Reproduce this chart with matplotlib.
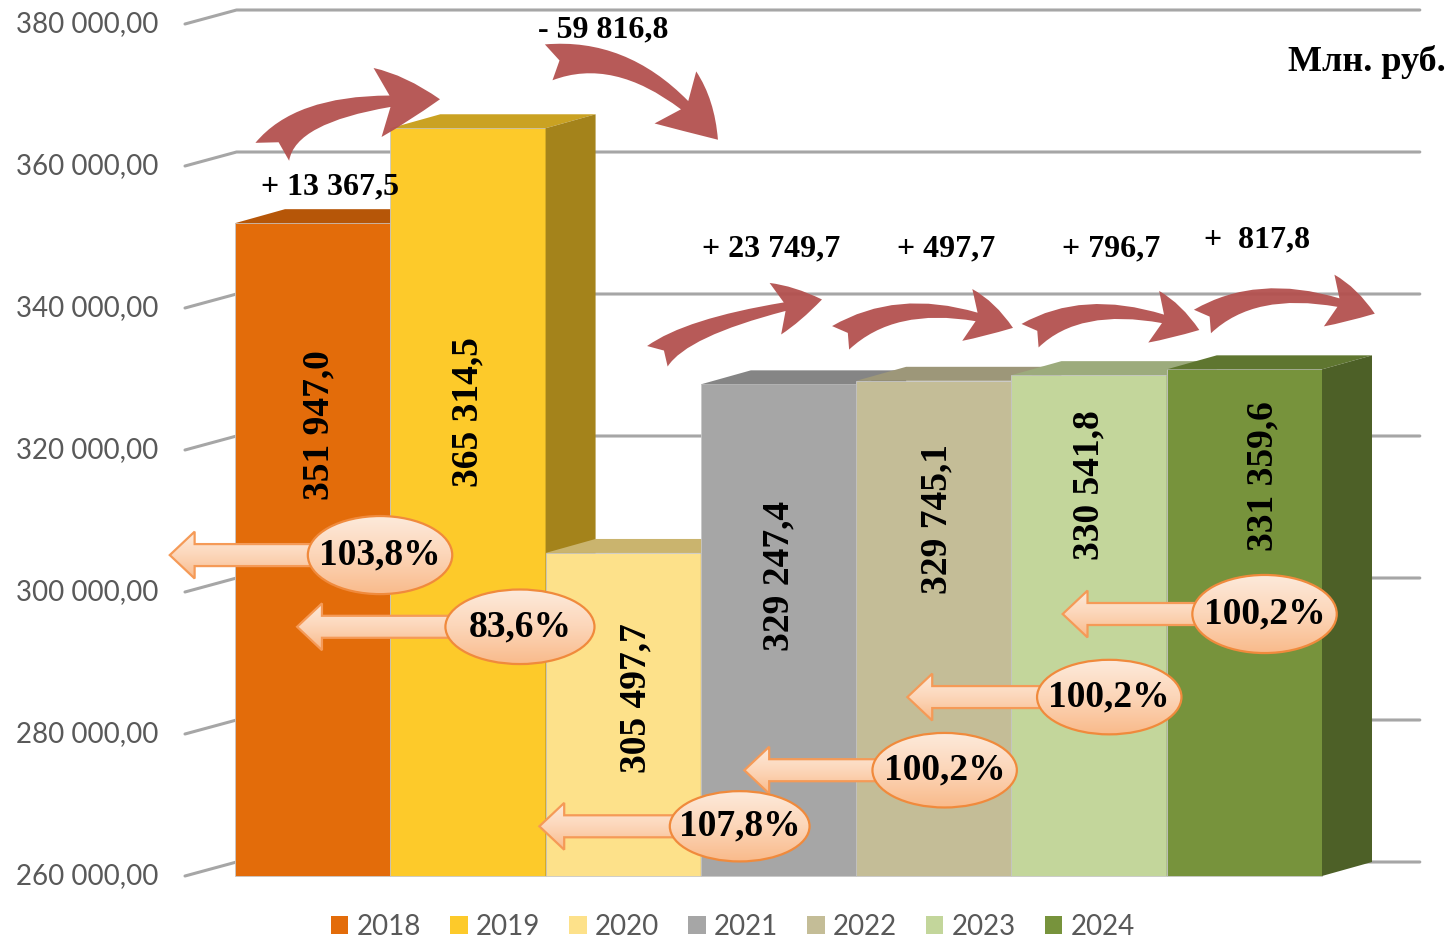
import numpy as np
import matplotlib
matplotlib.use('Agg')
import matplotlib.pyplot as plt
from matplotlib.patches import Polygon, Ellipse, FancyArrowPatch, Patch
from matplotlib.colors import LinearSegmentedColormap

# data
years = ['2018', '2019', '2020', '2021', '2022', '2023', '2024']
values = [351947.0, 365314.5, 305497.7, 329247.4, 329745.1, 330541.8, 331359.6]
value_labels = ['351 947,0', '365 314,5', '305 497,7', '329 247,4',
                '329 745,1', '330 541,8', '331 359,6']
change_labels = ['+ 13 367,5', '- 59 816,8', '+ 23 749,7', '+ 497,7',
                 '+ 796,7', '+  817,8']
pct_labels = ['103,8%', '83,6%', '107,8%', '100,2%', '100,2%', '100,2%']
yticks = [260000, 280000, 300000, 320000, 340000, 360000, 380000]
ytick_labels = ['260 000,00', '280 000,00', '300 000,00', '320 000,00',
                '340 000,00', '360 000,00', '380 000,00']
colors = ['#e36c0a', '#fdca2a', '#fde18a', '#a6a6a6', '#c4bd97', '#c3d69b', '#77933c']

# layout (bar units on x, value units on y)
YMIN, YMAX = 260000, 380000
DX, DY = 0.322, 1972          # 3d depth offset
label_frac = [0.69, 0.62, 0.55, 0.61, 0.72, 0.78, 0.79]
label_dx = [0.04, 0.0, 0.08, 0.0, 0.02, 0.0, 0.12]
change_pos = [(0.61, 357000), (2.37, 379200), (3.45, 348300),
              (4.58, 348300), (5.64, 348300), (6.58, 349600)]
# tail, tip, angleA, angleB, size
curve_arrows = [((0.24, 362000), (1.32, 369400), 62, 0, 50),
                ((2.02, 374600), (3.11, 363700), 12, -50, 48),
                ((2.72, 333200), (3.78, 341200), 45, 10, 38),
                ((3.90, 335800), (5.01, 337200), 36, -20, 38),
                ((5.12, 336100), (6.21, 336900), 36, -20, 38),
                ((6.23, 338100), (7.34, 339200), 36, -20, 38)]
ell_x = [0.934, 1.835, 3.25, 4.57, 5.63, 6.63]
ell_y = [305200, 295100, 267000, 274900, 285200, 296900]
ell_w = [0.93, 0.96, 0.90, 0.93, 0.93, 0.93]
ell_h = [11000, 10500, 9900, 10500, 10500, 11000]
tip_x = [-0.42, 0.40, 1.96, 3.28, 4.33, 5.33]

fig = plt.figure(figsize=(14.51, 9.41), dpi=100)
ax = fig.add_axes([235 / 1451, 65 / 941, 1087 / 1451, 852 / 941])
ax.axis('off')

# gridlines on the back wall
for v, lab in zip(yticks, ytick_labels):
    ax.plot([-0.322, 0.01, 7.63], [v, v + DY, v + DY], color='#a6a6a6', lw=2.2,
            clip_on=False, zorder=1, solid_capstyle='round')
    ax.text(-0.496, v, lab, ha='right', va='center', fontsize=20,
            family='Lato', color='#595959', clip_on=False)


def shade(c, k):
    rgb = np.array(matplotlib.colors.to_rgb(c))
    return tuple(rgb * k)


# bars
for i, (v, c) in enumerate(zip(values, colors)):
    x0, x1 = i, i + 1
    ax.add_patch(Polygon([(x0, YMIN), (x1, YMIN), (x1, v), (x0, v)], closed=True,
                         facecolor=c, edgecolor='#c8c8c8', lw=0.6, zorder=2, clip_on=False))
    ax.add_patch(Polygon([(x0, v), (x1, v), (x1 + DX, v + DY), (x0 + DX, v + DY)],
                         closed=True, facecolor=shade(c, 0.8), edgecolor='none',
                         zorder=2, clip_on=False))
    ax.add_patch(Polygon([(x1, YMIN), (x1 + DX, YMIN + DY), (x1 + DX, v + DY), (x1, v)],
                         closed=True, facecolor=shade(c, 0.65), edgecolor='none',
                         zorder=2, clip_on=False))
    ax.text(i + 0.5 + label_dx[i], YMIN + (v - YMIN) * label_frac[i], value_labels[i],
            rotation=90, ha='center', va='center', fontsize=27, fontweight='bold',
            family='Liberation Serif', color='black', zorder=3)

# red curved arrows and change labels
for (p0, p1, a, b, ms), lab, pos in zip(curve_arrows, change_labels, change_pos):
    arr = FancyArrowPatch(p0, p1, connectionstyle=f'angle3,angleA={a},angleB={b}',
                          arrowstyle='fancy,head_length=0.9,head_width=1.0,tail_width=0.55',
                          mutation_scale=ms, color='#b3514f', alpha=0.95,
                          shrinkA=0, shrinkB=0, lw=0, zorder=4, clip_on=False)
    ax.add_patch(arr)
    ax.text(pos[0], pos[1], lab, ha='center', va='center', fontsize=23,
            fontweight='bold', family='Liberation Serif', zorder=5, clip_on=False)

ax.text(7.80, 374600, 'Млн. руб.', ha='right', va='center', fontsize=26,
        fontweight='bold', family='Liberation Serif', clip_on=False)

# percentage callouts with a soft vertical gradient
peach = LinearSegmentedColormap.from_list('peach', ['#f9bb8c', '#fcd6b9', '#fdeadb'])
grad = np.linspace(0, 1, 64).reshape(-1, 1)
HL, HH, SH = 0.16, 3300, 1550
for k in range(len(pct_labels)):
    xe, ye = ell_x[k], ell_y[k]
    xt = tip_x[k]
    pts = [(xt, ye), (xt + HL, ye + HH), (xt + HL, ye + SH), (xe, ye + SH),
           (xe, ye - SH), (xt + HL, ye - SH), (xt + HL, ye - HH)]
    arrow = Polygon(pts, closed=True, facecolor='none', edgecolor='#f59a57',
                    lw=1.6, zorder=6.1, clip_on=False)
    ax.add_patch(arrow)
    im = ax.imshow(grad, extent=[xt, xe, ye - HH, ye + HH], origin='lower', cmap=peach,
                   aspect='auto', zorder=6, interpolation='bilinear')
    im.set_clip_box(fig.bbox)
    im.set_clip_path(arrow)
    ell = Ellipse((xe, ye), ell_w[k], ell_h[k], facecolor='none',
                  edgecolor='#f08a3c', lw=1.6, zorder=7.1, clip_on=False)
    ax.add_patch(ell)
    im = ax.imshow(grad, extent=[xe - ell_w[k] / 2, xe + ell_w[k] / 2,
                                 ye - ell_h[k] / 2, ye + ell_h[k] / 2],
                   origin='lower', cmap=peach, aspect='auto', zorder=7,
                   interpolation='bilinear')
    im.set_clip_box(fig.bbox)
    im.set_clip_path(ell)
    ax.text(xe, ye, pct_labels[k], ha='center', va='center', fontsize=27,
            fontweight='bold', family='Liberation Serif', zorder=8)

ax.set_xlim(0, 7)
ax.set_ylim(YMIN, YMAX)

handles = [Patch(facecolor=c) for c in colors]
fig.legend(handles, years, loc='center', bbox_to_anchor=(733 / 1451, 14 / 941), ncol=7,
           frameon=False, prop={'family': 'Lato', 'size': 20}, labelcolor='#595959',
           handlelength=0.62, handleheight=0.62, handletextpad=0.3, columnspacing=1.05,
           borderaxespad=0, borderpad=0)

fig.savefig('out.png', dpi=100)
